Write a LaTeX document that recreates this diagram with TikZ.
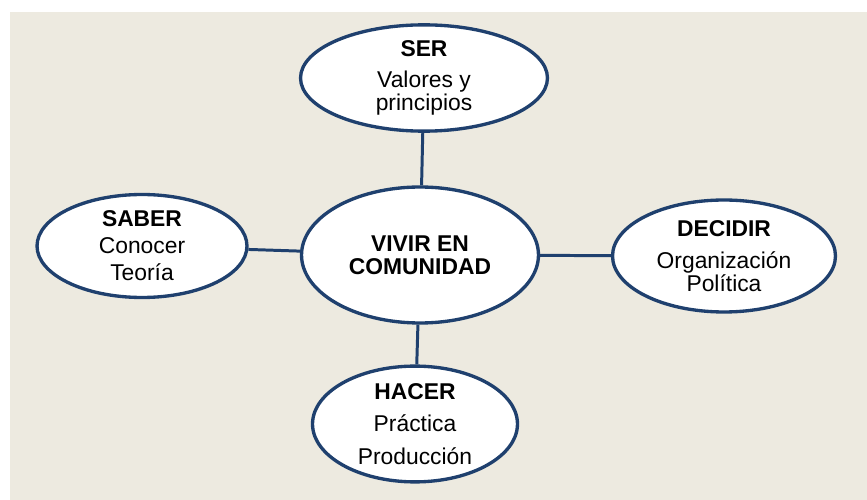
\documentclass[tikz,border=0pt]{standalone}
\usepackage{fontspec}
\setmainfont{Liberation Sans}
\usetikzlibrary{shapes}

\definecolor{navy}{RGB}{31,64,110}
\definecolor{beige}{RGB}{237,234,224}

\begin{document}
\begin{tikzpicture}[x=0.02cm,y=-0.02cm]
\tikzstyle{area}=[ellipse,draw=navy,line width=1.9pt,fill=white,align=center,inner sep=0pt,font=\fontsize{13}{13}\selectfont]
\tikzstyle{link}=[draw=navy,line width=1.7pt]
\useasboundingbox (0,0) rectangle (867,500);
\fill[beige] (9.5,12) rectangle (867,500);

\node[area,minimum width=4.74cm,minimum height=2.72cm,font=\fontsize{13}{13}\selectfont\bfseries](com) at (420,255) {VIVIR EN\\ COMUNIDAD};
\node[area,minimum width=4.94cm,minimum height=2.0cm](ser) at (424,78) {\textbf{SER}\\[5pt] Valores y\\ principios};
\node[area,minimum width=4.2cm,minimum height=2.06cm](saber) at (142,246) {\textbf{SABER}\\[2.3pt] Conocer\\[2.3pt] Teoría};
\node[area,minimum width=4.46cm,minimum height=2.24cm](decidir) at (724,256) {\textbf{DECIDIR}\\[5.7pt] Organización\\ Política};
\node[area,minimum width=4.1cm,minimum height=2.28cm](hacer) at (415,424) {\textbf{HACER}\\[5.7pt] Práctica\\[5.7pt] Producción};

\draw[link] (ser) -- (com);
\draw[link] (saber) -- (com);
\draw[link] (com) -- (decidir);
\draw[link] (com) -- (hacer);
\end{tikzpicture}
\end{document}
